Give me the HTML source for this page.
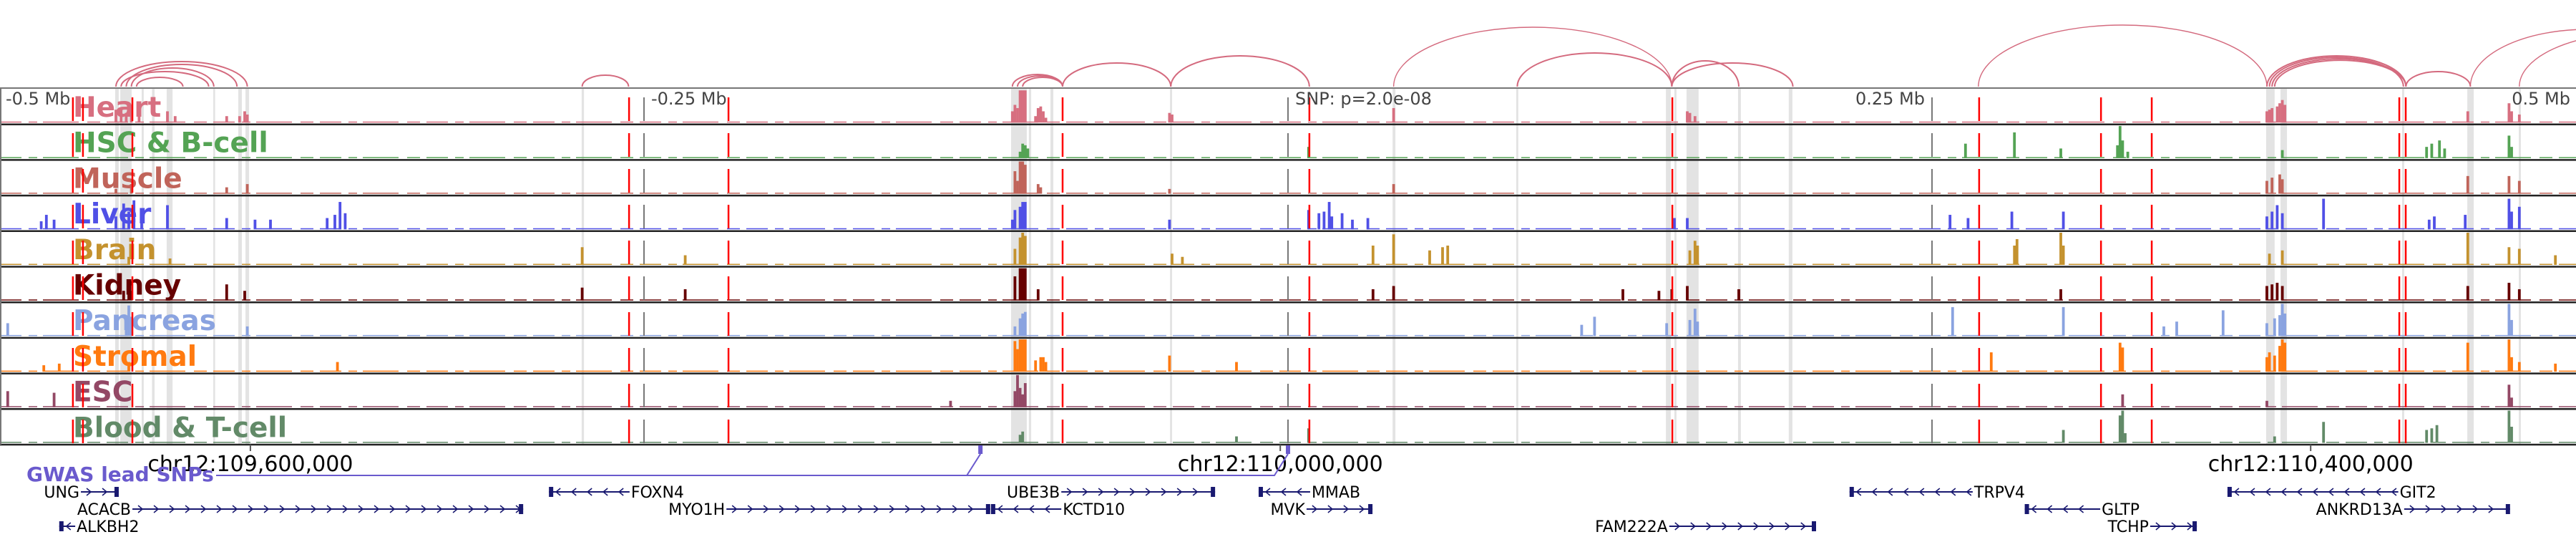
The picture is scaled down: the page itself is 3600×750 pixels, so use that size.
<!DOCTYPE html>
<html><head><meta charset="utf-8">
<style>
html,body{margin:0;padding:0;background:#fff;width:3600px;height:750px;overflow:hidden}
svg{display:block}
text{font-family:"DejaVu Sans","Liberation Sans",sans-serif}
</style></head>
<body>
<svg id="chart" width="3600" height="750" viewBox="0 0 3600 750" xmlns="http://www.w3.org/2000/svg"></svg>
<script>
// ---------- data (positions in kb relative to lead SNP) ----------
const trackNames = ["Heart","HSC & B-cell","Muscle","Liver","Brain","Kidney","Pancreas","Stromal","ESC","Blood & T-cell"];
const trackColors = ["#d76f80","#54a354","#c0645a","#5050e6","#c4922e","#660000","#8aa3e0","#ff7a10","#934865","#628a68"];
const heart = [[-455,0.4],[-453,0.45],[-451,0.3],[-449,0.5],[-446,0.25],[-435,0.35],[-432,0.2],[-412,0.2],[-407,0.2],[-405,0.35],[-404,0.25],[-107,0.35],[-106,0.55],[-105,0.45],[-104,1],[-103,1],[-102,1],[-98,0.2],[-97,0.45],[-96,0.5],[-95,0.35],[-94,0.15],[-46,0.3],[-45,0.25],[41,0.45],[155,0.35],[156,0.3],[158,0.2],[380,0.35],[381,0.4],[382,0.45],[384,0.5],[385,0.6],[386,0.7],[387,0.55],[458,0.35],[474,0.6],[475,0.35],[478,0.25]];
const hsc = [[-104,0.2],[-103,0.45],[-102,0.4],[-101,0.3],[8,0.35],[263,0.45],[282,0.8],[300,0.3],[322,0.4],[323,1],[324,0.55],[326,0.2],[386,0.25],[442,0.35],[444,0.45],[447,0.55],[449,0.3],[474,0.7],[475,0.35]];
const muscle = [[-455,0.15],[-449,0.3],[-412,0.2],[-404,0.3],[-106,0.7],[-105,0.4],[-104,1],[-103,1],[-102,0.9],[-97,0.3],[-96,0.2],[-46,0.15],[41,0.3],[380,0.4],[382,0.5],[385,0.6],[386,0.45],[458,0.55],[474,0.55],[478,0.4]];
const liver = [[-484,0.25],[-482,0.45],[-479,0.3],[-455,0.4],[-452,0.8],[-450,0.55],[-448,0.9],[-445,0.5],[-435,0.75],[-412,0.35],[-401,0.3],[-395,0.3],[-373,0.35],[-370,0.45],[-368,0.85],[-366,0.5],[-107,0.3],[-106,0.6],[-104,0.7],[-103,0.85],[-102,0.85],[-46,0.3],[8,0.6],[12,0.5],[14,0.55],[16,0.85],[17,0.4],[21,0.5],[25,0.3],[31,0.35],[150,0.35],[155,0.35],[257,0.45],[264,0.35],[281,0.55],[301,0.55],[380,0.4],[382,0.55],[384,0.75],[386,0.5],[402,0.95],[443,0.3],[445,0.4],[457,0.45],[474,0.95],[475,0.55],[478,0.7]];
const brain = [[-450,0.25],[-434,0.2],[-274,0.55],[-234,0.3],[-106,0.5],[-104,0.85],[-103,1],[-102,0.9],[-45,0.35],[-41,0.25],[33,0.6],[41,0.95],[55,0.45],[60,0.55],[62,0.6],[156,0.45],[158,0.75],[159,0.6],[282,0.6],[283,0.8],[300,1],[301,0.6],[381,0.35],[386,0.45],[458,1],[474,0.55],[478,0.5],[492,0.3]];
const kidney = [[-452,0.3],[-450,0.45],[-449,0.3],[-412,0.5],[-405,0.3],[-274,0.4],[-234,0.35],[-106,0.75],[-104,1],[-103,1],[-102,1],[-97,0.35],[33,0.35],[41,0.45],[130,0.35],[144,0.3],[149,0.35],[155,0.45],[175,0.35],[300,0.35],[380,0.45],[382,0.5],[384,0.55],[386,0.45],[458,0.45],[474,0.55],[478,0.35]];
const pancreas = [[-497,0.4],[-451,0.4],[-450,0.95],[-449,0.6],[-404,0.3],[-106,0.3],[-104,0.55],[-103,0.7],[-102,0.75],[114,0.35],[119,0.6],[147,0.4],[156,0.5],[158,0.85],[159,0.45],[258,0.9],[301,0.9],[340,0.3],[345,0.45],[363,0.8],[380,0.4],[383,0.55],[385,0.65],[386,1],[387,0.7],[474,1],[475,0.5]];
const stromal = [[-483,0.2],[-477,0.25],[-450,0.3],[-369,0.3],[-106,0.95],[-105,0.7],[-104,1],[-103,1],[-102,1],[-98,0.35],[-96,0.45],[-95,0.45],[-94,0.3],[-46,0.5],[-20,0.3],[273,0.6],[323,0.9],[324,0.75],[380,0.45],[381,0.6],[383,0.5],[385,0.8],[386,1],[387,0.9],[458,0.9],[474,1],[475,0.45],[478,0.3],[492,0.25]];
const esc = [[-497,0.5],[-479,0.45],[-131,0.2],[-106,0.5],[-105,1],[-104,0.6],[-103,0.4],[-102,0.75],[324,0.4],[380,0.2],[474,0.7],[475,0.3]];
const blood = [[-104,0.25],[-103,0.35],[-20,0.2],[8,0.45],[301,0.4],[323,0.85],[324,1],[325,0.3],[383,0.2],[402,0.65],[442,0.4],[444,0.45],[446,0.55],[474,1],[475,0.5]];
const trackSeries = [heart,hsc,muscle,liver,brain,kidney,pancreas,stromal,esc,blood];

const arcs = [[-455,-404,0.35],[-451,-408,0.31],[-449,-417,0.26],[-453,-419,0.21],[-447,-429,0.13],[-274,-256,0.16],[-107,-87.5,0.17],[-105,-87.5,0.15],[-103,-87.5,0.13],[-87.5,-45.5,0.33],[-45.5,8.3,0.43],[41,149,0.83],[89,149,0.47],[149,175,0.36],[149,196,0.33],[268,380,0.86],[380,434,0.43],[381,433,0.41],[382,434,0.39],[383,434,0.37],[434,459,0.21],[459,550,0.8],[478,569,0.75]];
const redLines = [-471.7,-467.8,-448.6,-255.8,-217.2,-87.5,8.3,149.2,268.3,315.6,335.3,431.4,433.9];
const grayLines = [-250,0,250];
const bands = [[-455.3,-453.9],[-453.3,-448.9],[-445,-444.2],[-441,-440],[-435.3,-433],[-417.2,-416.6],[-407.5,-406.1],[-404.7,-403.3],[-274.2,-273.3],[-107.5,-101.4],[-100.6,-99.7],[-92.2,-91.1],[-45.8,-45],[40.6,41.7],[88.6,89.4],[146.7,148.6],[150,150.8],[154.7,159.4],[174.7,175.8],[194.4,195.8],[379.7,383],[385.3,387.8],[432.5,433.3],[457.8,460.3],[477.8,478.6]];
const coordTicks = [-402.8,-3,397];
const coordLabels = ["chr12:109,600,000","chr12:110,000,000","chr12:110,400,000"];
const gwasSnps = [-119.4,0];
const genes = [["UNG",-468.6,-453.9,0,1,"L"],["ACACB",-448.6,-296.9,1,1,"L"],["ALKBH2",-477,-470.8,2,-1,"R"],["FOXN4",-286.9,-255.6,0,-1,"R"],["MYO1H",-218,-115.6,1,1,"L"],["KCTD10",-115.3,-88,1,-1,"R"],["UBE3B",-88,-28.3,0,1,"L"],["MMAB",-11.4,8.6,0,-1,"R"],["MVK",7.2,32.8,1,1,"L"],["FAM222A",148,205,2,1,"L"],["TRPV4",218,265.8,0,-1,"R"],["GLTP",286,315.3,1,-1,"R"],["TCHP",334.7,352.8,2,1,"L"],["GIT2",364.7,431,0,-1,"R"],["ANKRD13A",433.3,474.4,1,1,"L"]];

// ---------- layout ----------
const NS="http://www.w3.org/2000/svg";
const svg=document.getElementById("chart");
const X = kb => 1800 + kb*3.6;
const TOP=124, TH=49.7, NT=10, BOT=TOP+TH*NT;
const arcBase=121;
function mk(tag,attrs,parent){const e=document.createElementNS(NS,tag);for(const k in attrs)e.setAttribute(k,attrs[k]);(parent||svg).appendChild(e);return e;}

const gArcs=mk("g",{});


arcs.forEach(a=>{
  const x1=X(a[0]),x2=X(a[1]),rx=(x2-x1)/2,ry=a[2]*100;
  const p=mk("path",{d:`M${x1},${arcBase} A${rx},${ry} 0 0 1 ${x2},${arcBase}`,fill:"none",stroke:"#d46a7e","stroke-width":a[2]>0.7?1.4:2},gArcs);
  
  
});

bands.forEach(b=>{
  const r=mk("rect",{x:X(b[0]),y:TOP,width:Math.max(2.5,X(b[1])-X(b[0])),height:BOT-TOP,fill:"#e3e3e3"});
  
  
});

trackNames.forEach((n,i)=>{
  const t=mk("text",{x:102,y:TOP+i*TH+39,fill:trackColors[i],"font-size":39,"font-weight":"bold"});
  t.textContent=n;
  
  
});

trackSeries.forEach((s,i)=>{
  const base=TOP+(i+1)*TH-2.5;
  const g=mk("g",{});
  
  
  const bl=mk("line",{x1:0,y1:base-0.75,x2:3600,y2:base-0.75,stroke:trackColors[i],"stroke-width":1.5,"stroke-dasharray":"30 10 12 8 50 12 18 9"},g);
  
  
  s.forEach(d=>{
    const h=d[1]*45;
    const r=mk("rect",{x:X(d[0])-1.9,y:base-h,width:3.8,height:h,fill:trackColors[i]},g);
    
    
  });
  const sep=mk("line",{x1:0,y1:base+2.5,x2:3600,y2:base+2.5,stroke:"#222","stroke-width":2.5});
  
  
});
const topLine=mk("line",{x1:0,y1:TOP-1,x2:3600,y2:TOP-1,stroke:"#777","stroke-width":2});


const leftLine=mk("line",{x1:1,y1:TOP,x2:1,y2:BOT,stroke:"#777","stroke-width":2});



grayLines.forEach(k=>{
  const l=mk("line",{x1:X(k),y1:TOP,x2:X(k),y2:BOT,stroke:"#777","stroke-width":2,"stroke-dasharray":"33 17","stroke-dashoffset":-12});
  
  
});
redLines.forEach(k=>{
  const l=mk("line",{x1:X(k),y1:TOP,x2:X(k),y2:BOT,stroke:"#ff0000","stroke-width":2.5,"stroke-dasharray":"33 17","stroke-dashoffset":-12});
  
  
});

[["-0.5 Mb",8,"start"],["-0.25 Mb",910,"start"],["SNP: p=2.0e-08",1810,"start"],["0.25 Mb",2690,"end"],["0.5 Mb",3592,"end"]].forEach(a=>{
  const t=mk("text",{x:a[1],y:146,fill:"#444","font-size":24,"text-anchor":a[2]});
  t.textContent=a[0];
  
  
});

coordTicks.forEach((k,i)=>{
  const l=mk("line",{x1:X(k),y1:BOT,x2:X(k),y2:BOT+9,stroke:"#555","stroke-width":2});
  
  
  const t=mk("text",{x:X(k),y:658,"font-size":30,"text-anchor":"middle",fill:"#000"});
  t.textContent=coordLabels[i];
  
  
});

const gw=mk("text",{x:37,y:672,fill:"#6a5acd","font-size":28,"font-weight":"bold"});
gw.textContent="GWAS lead SNPs";


const x1=X(gwasSnps[0]),x2=X(gwasSnps[1]);
const gl=mk("path",{d:`M302,664 L${x1-19},664 L${x1},634 M${x1-19},664 L${x2-19},664 L${x2},634`,fill:"none",stroke:"#6a5acd","stroke-width":2});


gwasSnps.forEach(k=>{
  const r=mk("rect",{x:X(k)-3,y:622,width:6,height:12,fill:"#6a5acd"});
  
  
});

const rowY=[687,711,735];
genes.forEach(g=>{
  const y=rowY[g[3]],a=X(g[1]),b=X(g[2]);
  const grp=mk("g",{});
  
  
  mk("line",{x1:a,y1:y,x2:b,y2:y,stroke:"#191970","stroke-width":2},grp);
  for(let x=a+12;x<b-6;x+=22){
    const d=g[4]>0?`M${x-4},${y-5} L${x+2},${y} L${x-4},${y+5}`:`M${x+4},${y-5} L${x-2},${y} L${x+4},${y+5}`;
    mk("path",{d:d,fill:"none",stroke:"#191970","stroke-width":1.6},grp);
  }
  const ex=g[4]>0?b-6:a;
  mk("rect",{x:ex,y:y-7,width:6,height:14,fill:"#191970"},grp);
  const t=mk("text",{x:g[5]==="L"?a-2:b+2,y:y+8,"font-size":22,fill:"#000","text-anchor":g[5]==="L"?"end":"start"},grp);
  t.textContent=g[0];
  
  
});
</script>
</body></html>
